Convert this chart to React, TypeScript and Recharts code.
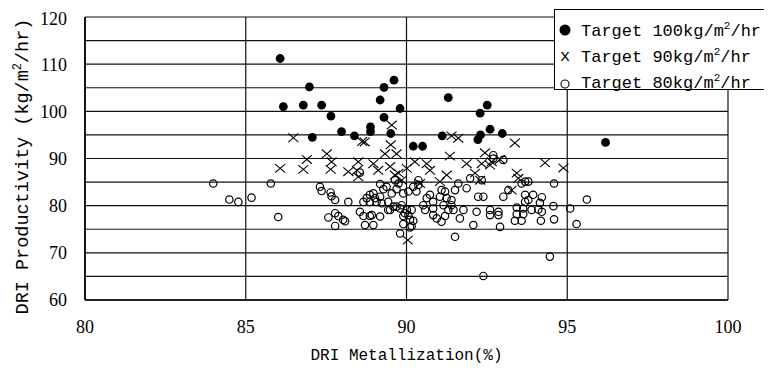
import React from "react"
import { ScatterChart, Scatter, XAxis, YAxis, CartesianGrid, Label } from "recharts"

// [metallization %, productivity kg/m2/hr]
const target100: [number, number][] = [
  [86.07, 111.2], [86.17, 101.0], [86.79, 101.3], [86.98, 105.2], [87.36, 101.3], [87.65, 99.0],
  [87.07, 94.5], [87.98, 95.7], [88.38, 94.8], [88.88, 96.7], [88.88, 95.7], [89.18, 102.4],
  [89.3, 105.1], [89.61, 106.6], [89.3, 98.7], [89.51, 95.3], [89.8, 100.6], [90.21, 92.6],
  [90.5, 92.6], [91.3, 102.9], [91.11, 94.8], [92.29, 99.6], [92.51, 101.3], [92.6, 96.2],
  [92.98, 95.3], [92.3, 95.0], [92.22, 94.0], [96.19, 93.4],
]

const target90: [number, number][] = [
  [86.48, 94.4], [89.54, 97.1], [91.4, 94.8], [91.61, 94.3], [88.62, 93.6], [88.7, 93.5],
  [89.51, 92.9], [87.52, 91.0], [86.9, 89.8], [87.67, 89.3], [86.07, 87.9], [86.79, 87.7],
  [87.64, 87.7], [88.19, 87.2], [88.5, 89.3], [88.5, 86.1], [88.97, 88.9], [89.33, 91.0],
  [89.69, 91.0], [89.12, 87.5], [89.49, 88.3], [89.75, 86.9], [90.01, 87.9], [90.26, 89.3],
  [90.63, 88.9], [90.73, 87.5], [90.42, 84.7], [91.35, 90.5], [91.25, 86.5], [91.04, 85.1],
  [91.87, 88.9], [92.13, 86.9], [92.29, 85.4], [92.44, 91.2], [92.6, 88.6], [92.34, 88.9],
  [92.91, 89.8], [93.43, 86.9], [93.48, 85.8], [93.37, 93.3], [94.31, 89.1], [94.88, 88.0],
  [93.27, 83.3], [90.04, 72.7], [89.64, 86.5], [89.85, 85.4], [92.65, 89.3], [88.46, 87.5],
]

const target80: [number, number][] = [
  [83.99, 84.7], [84.49, 81.3], [84.77, 80.8], [85.18, 81.7], [85.78, 84.7], [86.01, 77.6],
  [87.31, 84.0], [87.36, 83.1], [87.64, 82.8], [87.67, 82.0], [87.78, 81.2], [88.19, 80.8],
  [88.55, 87.0], [89.18, 84.6], [89.28, 83.5], [89.38, 84.0], [88.76, 81.6], [88.86, 82.3],
  [88.97, 82.6], [89.02, 81.6], [89.07, 80.8], [89.18, 81.9], [88.86, 80.8], [89.23, 80.5],
  [89.43, 80.8], [89.49, 79.1], [89.69, 79.8], [89.85, 80.1], [89.9, 82.6], [90.01, 79.1],
  [90.16, 79.1], [89.54, 82.6], [89.69, 83.5], [89.75, 84.7], [89.64, 85.4], [89.9, 77.8],
  [90.21, 76.8], [89.9, 76.1], [90.16, 75.7], [90.21, 84.0], [90.31, 83.0], [90.37, 84.4],
  [90.52, 80.1], [90.58, 79.1], [90.83, 80.8], [90.63, 81.6], [90.73, 82.3], [91.09, 83.3],
  [91.04, 81.9], [91.2, 83.0], [91.51, 83.3], [91.61, 84.7], [91.25, 81.6], [91.4, 81.2],
  [91.15, 80.1], [91.46, 79.1], [91.3, 79.1], [90.83, 78.0], [90.94, 77.3], [91.2, 77.8],
  [91.09, 76.6], [91.77, 79.1], [91.87, 83.7], [91.98, 85.8], [92.23, 81.9], [92.39, 81.9],
  [92.86, 78.7], [92.86, 78.0], [92.6, 79.1], [92.6, 78.0], [93.01, 81.9], [93.17, 83.3],
  [91.66, 77.3], [92.08, 75.9], [92.18, 78.7], [92.7, 90.0], [93.01, 89.7], [92.7, 90.7],
  [92.91, 75.5], [87.57, 77.5], [87.88, 77.8], [88.09, 76.7], [87.78, 75.7], [88.55, 78.7],
  [88.66, 77.8], [88.86, 77.8], [88.71, 75.9], [88.97, 75.9], [90.11, 75.4], [89.8, 74.1],
  [91.51, 73.4], [92.39, 65.1], [92.34, 85.4], [93.58, 84.7], [93.69, 85.1], [93.79, 85.1],
  [94.59, 84.7], [93.69, 82.3], [93.94, 82.3], [94.21, 81.8], [93.69, 80.8], [93.79, 81.2],
  [94.15, 80.6], [93.43, 79.6], [93.63, 79.4], [93.89, 79.1], [94.1, 79.2], [94.21, 78.7],
  [94.57, 79.9], [93.43, 78.2], [93.63, 78.2], [93.37, 76.8], [93.58, 76.8], [94.18, 76.8],
  [94.59, 77.1], [95.09, 79.4], [95.61, 81.3], [95.29, 76.1], [94.46, 69.2], [88.66, 80.8],
  [89.95, 78.4], [87.78, 78.4], [88.03, 77.0], [88.92, 78.0], [89.18, 77.7], [90.06, 78.0],
  [90.11, 77.0], [90.06, 83.0], [90.37, 85.4], [90.83, 79.4], [91.4, 80.1], [89.43, 79.1],
  [89.59, 79.8], [89.8, 79.4],
]

const xTicks = [80, 85, 90, 95, 100]
const yTicks = [60, 65, 70, 75, 80, 85, 90, 95, 100, 105, 110, 115, 120]

const toPoints = (rows: [number, number][]) => rows.map(([x, y]) => ({ x, y }))

const DotShape = (p: any) => <circle cx={p.cx} cy={p.cy} r={4.4} fill="#000" />

const CrossShape = (p: any) => (
  <g stroke="#000" strokeWidth={1.1}>
    <line x1={p.cx - 5} y1={p.cy - 4.3} x2={p.cx + 5} y2={p.cy + 4.3} />
    <line x1={p.cx - 5} y1={p.cy + 4.3} x2={p.cx + 5} y2={p.cy - 4.3} />
  </g>
)

const RingShape = (p: any) => (
  <circle cx={p.cx} cy={p.cy} r={3.7} fill="none" stroke="#000" strokeWidth={1.2} />
)

const mono = "'Liberation Mono', 'DejaVu Sans Mono', monospace"
const serif = "'Liberation Serif', 'DejaVu Serif', serif"

const YTitle = (props: any) => {
  const vb = props.viewBox
  const cx = 20
  const cy = vb.y + vb.height / 2 + 8
  return (
    <text x={cx} y={cy} transform={`rotate(-90, ${cx}, ${cy})`} textAnchor="middle"
      fontFamily={mono} fontSize={18.5} fill="#000">
      DRI Productivity (kg/m<tspan dy={-7} fontSize={12}>2</tspan><tspan dy={7}>/hr)</tspan>
    </text>
  )
}

const XTitle = (props: any) => {
  const vb = props.viewBox
  return (
    <text x={vb.x + vb.width / 2} y={vb.y + 60} textAnchor="middle"
      fontFamily={mono} fontSize={16} fill="#000">
      DRI Metallization(%)
    </text>
  )
}

const LegendRow = ({ marker, value }: { marker: React.ReactNode; value: string }) => (
  <div style={{ height: 26, display: "flex", alignItems: "center" }}>
    <svg width={22} height={26} style={{ flex: "none" }}>{marker}</svg>
    <span style={{ marginLeft: 4, fontFamily: mono, fontSize: 17, whiteSpace: "nowrap" }}>
      Target {value}kg/m<sup style={{ fontSize: 11, verticalAlign: 7 }}>2</sup>/hr
    </span>
  </div>
)

export default function App() {
  return (
    <div style={{ position: "relative", width: 764, height: 364, overflow: "hidden", background: "#fff" }}>
      <ScatterChart width={764} height={356} margin={{ top: 9, right: 44, bottom: 34, left: 0 }}>
        <CartesianGrid stroke="#111" strokeWidth={1.2} />
        <XAxis type="number" dataKey="x" domain={[80, 100]} ticks={xTicks} height={30}
          axisLine={{ stroke: "#000", strokeWidth: 1.6 }} tickLine={false} tickMargin={14}
          tick={{ fontFamily: serif, fontSize: 18, fill: "#000" }}>
          <Label content={<XTitle />} />
        </XAxis>
        <YAxis type="number" dataKey="y" domain={[60, 120]} ticks={yTicks} width={77}
          axisLine={{ stroke: "#000", strokeWidth: 1.6 }} tickLine={false} tickMargin={12}
          tickFormatter={(v: number) => (v % 10 === 0 ? String(v) : "")}
          tick={{ fontFamily: serif, fontSize: 18, fill: "#000" }}>
          <Label content={<YTitle />} />
        </YAxis>
        <Scatter name="Target 90" data={toPoints(target90)} shape={CrossShape} isAnimationActive={false} />
        <Scatter name="Target 80" data={toPoints(target80)} shape={RingShape} isAnimationActive={false} />
        <Scatter name="Target 100" data={toPoints(target100)} shape={DotShape} isAnimationActive={false} />
      </ScatterChart>
      <div style={{
        position: "absolute", left: 546, top: 1, width: 240, height: 81, boxSizing: "border-box",
        border: "1.3px solid #000", background: "#fff", paddingTop: 7,
      }}>
        <LegendRow marker={<circle cx={10} cy={13} r={5.5} fill="#000" />} value="100" />
        <LegendRow marker={<text x={10} y={18} textAnchor="middle" fontFamily={mono} fontSize={17}>x</text>} value="90" />
        <LegendRow marker={<circle cx={10} cy={15} r={4} fill="none" stroke="#000" strokeWidth={1.1} />} value="80" />
      </div>
    </div>
  )
}
